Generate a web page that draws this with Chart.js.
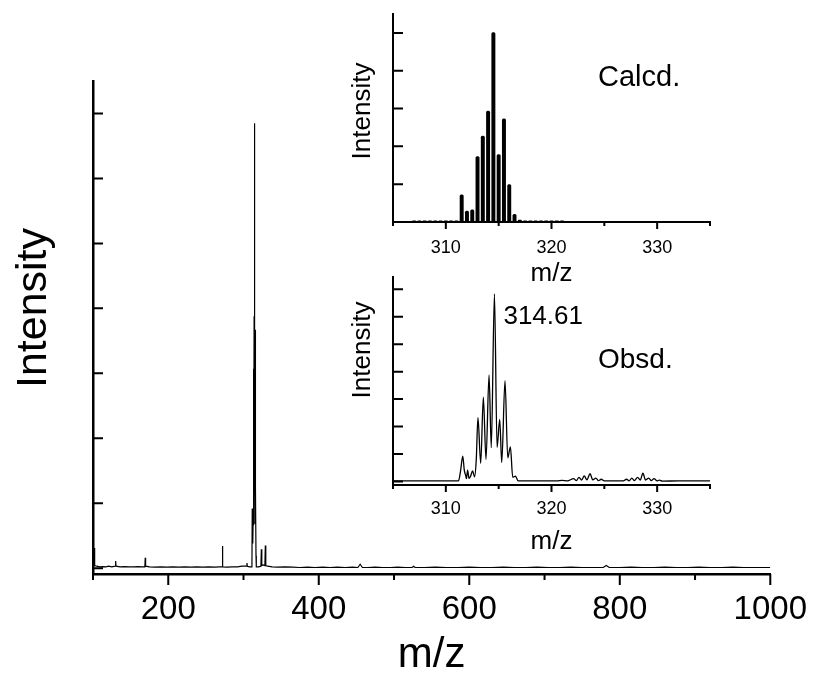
<!DOCTYPE html>
<html>
<head>
<meta charset="utf-8">
<script src="https://cdn.jsdelivr.net/npm/chart.js@4.4.0/dist/chart.umd.min.js"></script>
<style>
  html, body { margin: 0; padding: 0; background: #fff; }
  #wrap { position: relative; width: 815px; height: 677px; overflow: hidden; }
  canvas { position: absolute; }
</style>
</head>
<body>
<div id="wrap">
  <canvas id="mainChart" width="815" height="677" style="left:0;top:0"></canvas>
  <canvas id="calcdChart" width="390" height="290" style="left:330px;top:0"></canvas>
  <canvas id="obsdChart" width="390" height="305" style="left:330px;top:255px"></canvas>
</div>
<script>
// Mass spectrum, full range
const mainMz = [
  100, 101.2, 101.7, 102.2, 105, 109, 113, 117, 121, 125, 129.6, 130.1, 130.6,
  136, 142, 148, 154, 160, 165, 168.9, 169.4, 169.9, 175, 182, 190, 198, 206, 214,
  222, 230, 238, 246, 254, 262, 268, 271.5, 272, 272.5, 278, 285, 292, 298, 302,
  304.1, 304.6, 305.1, 308, 311.2, 311.6, 312.1, 312.5, 312.9, 313.04, 313.3, 313.55,
  313.8, 314.09, 314.3, 314.6, 314.85, 315.1, 315.3, 315.6, 315.86, 316.1, 316.6, 317,
  320, 323.1, 323.7, 324.3, 326, 328.4, 329, 329.6, 332, 338, 345, 355, 365, 375, 385,
  395, 405, 415, 425, 435, 445, 452, 455, 458, 465, 475, 485, 495, 505, 515, 524, 526,
  528, 540, 555, 570, 585, 600, 615, 630, 645, 660, 675, 690, 705, 720, 735, 750, 765,
  778, 782, 786, 800, 815, 830, 845, 860, 875, 890, 905, 920, 935, 950, 965, 980, 1000
];
const mainIntensity = [
  0.03, 0.03, 0.31, 0.04, 0.03, 0.02, 0.025, 0.02, 0.03, 0.02, 0.03, 0.11, 0.03,
  0.02, 0.025, 0.02, 0.02, 0.025, 0.02, 0.02, 0.16, 0.03, 0.02, 0.015, 0.02, 0.015, 0.02, 0.015,
  0.02, 0.015, 0.02, 0.015, 0.02, 0.015, 0.02, 0.02, 0.34, 0.02, 0.015, 0.02, 0.02, 0.03, 0.03,
  0.03, 0.08, 0.03, 0.02, 0.02, 0.92, 0.4, 0.38, 0.8, 2.32, 0.66, 3.07,
  0.8, 3.88, 1.23, 6.85, 1.24, 2.26, 0.69, 3.67, 0.86, 1.26, 0.19, 0.02,
  0.02, 0.03, 0.29, 0.04, 0.05, 0.04, 0.35, 0.04, 0.03, 0.02, 0.015, 0.02, 0.015, 0.01, 0.015,
  0.01, 0.015, 0.01, 0.015, 0.01, 0.015, 0.01, 0.06, 0.01, 0.01, 0.015, 0.01, 0.01, 0.015, 0.01, 0.01, 0.03,
  0.01, 0.01, 0.015, 0.01, 0.01, 0.015, 0.01, 0.01, 0.015, 0.01, 0.01, 0.015, 0.01, 0.01, 0.015, 0.01, 0.01,
  0.01, 0.04, 0.01, 0.01, 0.015, 0.01, 0.01, 0.015, 0.01, 0.01, 0.015, 0.01, 0.01, 0.015, 0.01, 0.01, 0.01
];
const mainXTicks = [100, 200, 300, 400, 500, 600, 700, 800, 900, 1000];
const mainXLabels = [200, 400, 600, 800, 1000];
const mainYTicks = [0, 1, 2, 3, 4, 5, 6, 7];

// Calculated isotope pattern (inset, top)
const calcdMz = [
  307, 307.5, 308, 308.5, 309, 309.5, 310, 310.5, 311, 311.5, 312, 312.5, 313, 313.5,
  314, 314.5, 315, 315.5, 316, 316.5, 317, 317.5, 318, 318.5, 319, 319.5, 320, 320.5, 321
];
const calcdIntensity = [
  0.03, 0.03, 0.03, 0.03, 0.03, 0.03, 0.03, 0.03, 0.03, 0.72, 0.29, 0.32, 1.73, 2.27,
  2.93, 5.01, 1.78, 2.73, 0.99, 0.2, 0.05, 0.03, 0.03, 0.03, 0.03, 0.03, 0.03, 0.03, 0.03
];
const calcdYTicks = [0, 1, 2, 3, 4, 5];

// Observed isotope pattern (inset, bottom)
const obsdMz = [
  305, 307, 309, 311.2, 311.4, 311.6, 311.75, 311.87, 311.95, 312.06, 312.2, 312.35,
  312.53, 312.72, 312.88, 313.04, 313.3, 313.55, 313.8, 314.09, 314.3, 314.6, 314.85,
  315.1, 315.29, 315.6, 315.86, 316.11, 316.33, 316.59, 316.84, 318, 320.5, 321, 321.5,
  322.1, 322.35, 322.6, 322.85, 323.1, 323.35, 323.65, 323.9, 324.2, 324.45, 324.7, 325,
  326.8, 327.1, 327.35, 327.6, 327.85, 328.15, 328.4, 328.65, 328.9, 329.2, 329.45,
  329.7, 330, 330.2, 330.5, 332, 335
];
const obsdIntensity = [
  0.02, 0.02, 0.02, 0.02, 0.4, 0.92, 0.4, 0.23, 0.1, 0.41, 0.11, 0.2,
  0.38, 0.17, 0.8, 2.32, 0.66, 3.07, 0.8, 3.88, 1.23, 6.83, 1.24,
  2.26, 0.69, 3.67, 0.86, 1.26, 0.15, 0.19, 0.02, 0.02, 0.02, 0.04, 0.02,
  0.1, 0.03, 0.15, 0.05, 0.2, 0.06, 0.28, 0.06, 0.12, 0.03, 0.08, 0.02,
  0.02, 0.08, 0.02, 0.12, 0.03, 0.15, 0.05, 0.3, 0.05, 0.12, 0.03,
  0.1, 0.02, 0.05, 0.01, 0.02, 0.02
];
const obsdYTicks = [0, 1, 2, 3, 4, 5, 6, 7];

const insetXTicks = [305, 310, 315, 320, 325, 330, 335];
const insetXLabels = [310, 320, 330];

const FONT = "'Liberation Sans', Arial, sans-serif";
Chart.defaults.font.family = FONT;
Chart.defaults.color = '#000';

// inward y ticks, outward x ticks (major longer than minor)
function tickMarks(cfg) {
  return {
    id: 'tickMarks',
    afterDraw(chart) {
      const { ctx, scales: { x, y } } = chart;
      ctx.save();
      ctx.strokeStyle = '#000';
      ctx.lineWidth = cfg.lineWidth;
      ctx.beginPath();
      cfg.xTicks.forEach(v => {
        const px = x.getPixelForValue(v);
        const len = cfg.xLabels.includes(v) ? cfg.xMajor : cfg.xMinor;
        ctx.moveTo(px, x.top);
        ctx.lineTo(px, x.top + len);
      });
      cfg.yTicks.forEach(v => {
        const py = y.getPixelForValue(v);
        ctx.moveTo(y.right, py);
        ctx.lineTo(y.right + cfg.yLen, py);
      });
      ctx.stroke();
      ctx.restore();
    }
  };
}

// free text: data-anchored notes and rotated y titles
function freeText(items) {
  return {
    id: 'freeText',
    afterDraw(chart) {
      const ctx = chart.ctx;
      items.forEach(it => {
        let x = it.x, y = it.y;
        if (it.data) {
          x = chart.scales.x.getPixelForValue(it.x);
          y = chart.scales.y.getPixelForValue(it.y);
        }
        ctx.save();
        ctx.font = it.size + 'px ' + FONT;
        ctx.fillStyle = '#000';
        ctx.textAlign = it.align || 'left';
        ctx.textBaseline = 'middle';
        ctx.translate(x, y);
        if (it.rot) ctx.rotate(it.rot);
        ctx.fillText(it.text, 0, 0);
        ctx.restore();
      });
    }
  };
}

function xyData(xs, ys) {
  return xs.map((x, i) => ({ x: x, y: ys[i] }));
}

function baseOptions(o) {
  return {
    responsive: false,
    animation: false,
    events: [],
    layout: { padding: { left: 0, top: o.top, right: o.right, bottom: 0 } },
    plugins: { legend: { display: false }, tooltip: { enabled: false } },
    scales: {
      x: {
        type: 'linear',
        min: o.xMin,
        max: o.xMax,
        offset: false,
        afterBuildTicks: s => { s.ticks = o.xTicks.map(v => ({ value: v })); },
        afterFit: s => { s.height = o.xHeight; },
        grid: { display: false },
        border: { display: true, color: '#000', width: o.border },
        ticks: {
          padding: o.tickPad,
          color: '#000',
          font: { size: o.tickSize },
          maxRotation: 0,
          autoSkip: false,
          callback: v => o.xLabels.includes(v) ? String(v) : ''
        },
        title: {
          display: true,
          text: 'm/z',
          color: '#000',
          font: { size: o.titleSize, lineHeight: o.titleLH },
          padding: { top: 0, bottom: o.titlePad }
        }
      },
      y: {
        type: 'linear',
        min: o.yMin,
        max: o.yMax,
        afterFit: s => { s.width = o.yWidth; },
        grid: { display: false },
        border: { display: true, color: '#000', width: o.border },
        ticks: { display: false }
      }
    }
  };
}

// main spectrum
new Chart(document.getElementById('mainChart'), {
  type: 'line',
  data: {
    datasets: [{
      data: xyData(mainMz, mainIntensity),
      borderColor: '#000',
      borderWidth: 1.2,
      pointRadius: 0,
      tension: 0
    }]
  },
  options: baseOptions({
    top: 81, right: 43, xMin: 100, xMax: 1000, yMin: -0.09, yMax: 7.5,
    xTicks: mainXTicks, xLabels: mainXLabels, xHeight: 103, yWidth: 93,
    border: 2.5, tickPad: 8, tickSize: 33, titleSize: 42, titleLH: 1.05, titlePad: 0
  }),
  plugins: [
    tickMarks({ xTicks: mainXTicks, xLabels: mainXLabels, yTicks: mainYTicks,
      xMajor: 11, xMinor: 6, yLen: 10, lineWidth: 2 }),
    freeText([{ text: 'Intensity', x: 34, y: 308, size: 43, align: 'center', rot: -Math.PI / 2 }])
  ]
});

// calculated inset
new Chart(document.getElementById('calcdChart'), {
  type: 'bar',
  data: {
    datasets: [{
      data: xyData(calcdMz, calcdIntensity),
      backgroundColor: '#000',
      borderWidth: 0,
      barThickness: 3.3,
      borderRadius: 1.5,
      borderSkipped: 'bottom'
    }]
  },
  options: baseOptions({
    top: 14, right: 10, xMin: 305, xMax: 335, yMin: 0, yMax: 5.5,
    xTicks: insetXTicks, xLabels: insetXLabels, xHeight: 68, yWidth: 63,
    border: 2, tickPad: 7, tickSize: 18, titleSize: 26, titleLH: 1.2, titlePad: 1
  }),
  plugins: [
    tickMarks({ xTicks: insetXTicks, xLabels: insetXLabels, yTicks: calcdYTicks,
      xMajor: 7, xMinor: 4, yLen: 10, lineWidth: 2 }),
    freeText([
      { text: 'Intensity', x: 33, y: 111, size: 26, align: 'center', rot: -Math.PI / 2 },
      { text: 'Calcd.', x: 324.4, y: 3.82, size: 29, data: true }
    ])
  ]
});

// observed inset
new Chart(document.getElementById('obsdChart'), {
  type: 'line',
  data: {
    datasets: [{
      data: xyData(obsdMz, obsdIntensity),
      borderColor: '#000',
      borderWidth: 1.3,
      pointRadius: 0,
      cubicInterpolationMode: 'monotone'
    }]
  },
  options: baseOptions({
    top: 22, right: 10, xMin: 305, xMax: 335, yMin: -0.13, yMax: 7.45,
    xTicks: insetXTicks, xLabels: insetXLabels, xHeight: 75, yWidth: 63,
    border: 2, tickPad: 5, tickSize: 18, titleSize: 26, titleLH: 1.2, titlePad: 3
  }),
  plugins: [
    tickMarks({ xTicks: insetXTicks, xLabels: insetXLabels, yTicks: obsdYTicks,
      xMajor: 7, xMinor: 4, yLen: 10, lineWidth: 2 }),
    freeText([
      { text: 'Intensity', x: 33, y: 95, size: 26, align: 'center', rot: -Math.PI / 2 },
      { text: '314.61', x: 315.45, y: 6.0, size: 26, data: true },
      { text: 'Obsd.', x: 324.4, y: 4.43, size: 28, data: true }
    ])
  ]
});
</script>
</body>
</html>
